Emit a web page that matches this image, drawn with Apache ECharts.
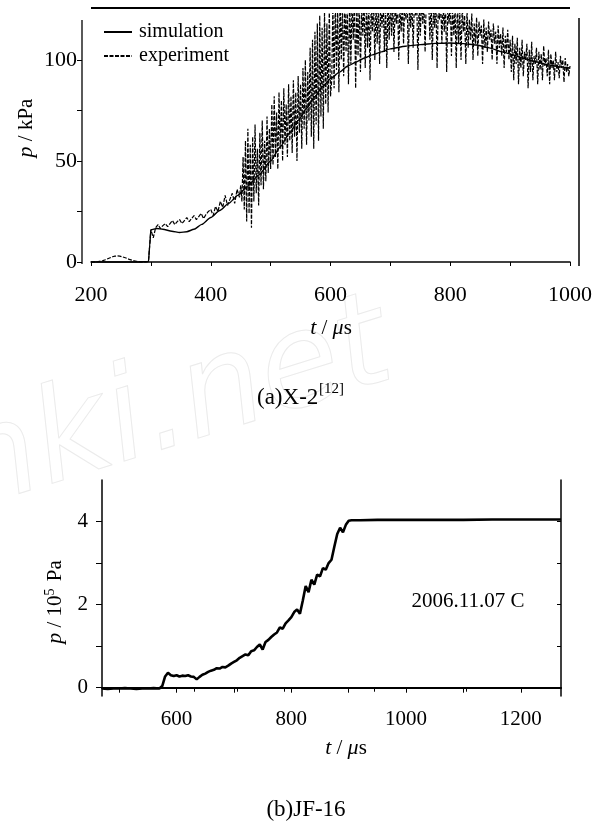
<!DOCTYPE html>
<html>
<head>
<meta charset="utf-8">
<title>p-t curves</title>
<script src="https://cdn.jsdelivr.net/npm/echarts@6/dist/echarts.min.js"></script>
<style>
  html, body { margin: 0; padding: 0; background: #fff; }
  #chart { width: 595px; height: 823px; }
</style>
</head>
<body>
<div id="chart"></div>
<script>
// (a) X-2 : simulated pressure (kPa) against time (µs)
const simTime = [200, 240, 280, 296, 298, 300, 310, 320, 335, 348, 360, 372, 385, 400, 415, 430, 445, 460, 480, 500,
  516, 532, 546, 560, 574, 587, 601, 615, 629, 643, 657, 670, 685, 700, 725, 750, 775, 800, 822, 843,
  865, 887, 905, 920, 942, 965, 983, 1000]
const simP = [0, 0, 0, 0.2, 8, 16, 16.6, 16.2, 15.2, 14.6, 15, 16.2, 18.6, 22, 25.5, 29, 33, 37, 43, 50,
  57, 64, 70, 76, 82, 87, 91, 94, 97, 99, 101, 102.5, 104, 105.5, 106.8, 107.6, 108.2, 108.4, 108.1, 107.4,
  106, 104, 102.5, 101, 99.2, 97.5, 96.6, 96]

// (a) X-2 : measured trace. Before 450 µs one reading every 4 µs ...
const expEarlyStart = 200
const expEarlyStep = 4
const expEarly = [
  // 200 - 296
  0, 0, 0.1, 0.2, 0.4, 0.7, 1.1, 1.6, 2.1, 2.6, 2.9, 3.0, 2.9, 2.6, 2.2, 1.8, 1.3, 0.9, 0.6, 0.3, 0.2, 0.1, 0, 0, 0.3,
  // 300 - 396
  16, 12, 17, 18.5, 16.5, 18, 19, 17.5, 19, 20.5, 18.5, 20, 21, 19, 20.5, 22, 20, 21.5, 23, 21, 22.5, 24, 21.5, 23.5, 25,
  // 400 - 448
  26, 23, 27.5, 25, 30, 27, 33, 28, 31, 34, 29, 36, 32
]
// ... and from 450 µs, where it oscillates hard, one every 2 µs
const expLateStart = 450
const expLateStep = 2
const expLate = [
  // 450 - 500
  38, 30, 52, 26, 60, 20, 66, 24, 58, 17, 62, 30, 68, 34, 56, 28, 64, 38, 70, 36, 60, 40, 72, 44, 66, 46,
  // 502 - 600
  78, 48, 82, 52, 74, 46, 84, 56, 80, 50, 86, 58, 78, 52, 88, 60, 82, 54, 90, 62,
  84, 50, 92, 64, 88, 56, 96, 66, 100, 58, 94, 70, 106, 62, 110, 56, 114, 68, 118, 60,
  122, 72, 116, 66, 124, 78, 118, 74, 126, 82,
  // 602 - 700
  90, 128, 86, 130, 95, 126, 84, 131, 100, 128, 92, 130, 104, 127, 88, 132, 98, 129, 110, 131,
  86, 128, 102, 130, 94, 126, 112, 131, 96, 129, 106, 132, 90, 128, 114, 130, 100, 127, 108, 131,
  98, 129, 116, 130, 104, 128, 96, 131, 110, 129,
  // 702 - 800
  112, 130, 104, 128, 118, 131, 100, 127, 114, 130, 108, 129, 120, 131, 98, 128, 116, 130, 106, 127,
  122, 131, 95, 129, 112, 130, 118, 128, 104, 131, 124, 129, 110, 130, 100, 127, 116, 131, 96, 128,
  120, 130, 108, 129, 114, 131, 94, 128, 118, 130,
  // 802 - 900
  102, 128, 112, 126, 96, 130, 108, 124, 100, 127, 114, 122, 98, 125, 106, 120, 110, 123, 100, 118,
  108, 121, 102, 119, 112, 117, 98, 120, 106, 116, 104, 119, 110, 115, 100, 118, 108, 114, 98, 117,
  106, 113, 102, 116, 96, 112, 104, 115, 100, 110,
  // 902 - 1000
  94, 112, 90, 108, 98, 111, 88, 106, 96, 110, 92, 104, 100, 108, 86, 105, 94, 109, 90, 102,
  98, 106, 88, 104, 95, 103, 90, 107, 97, 101, 92, 105, 88, 103, 96, 100, 90, 104, 94, 99,
  91, 102, 96, 100, 89, 101, 94, 98, 92, 97
]

// (b) JF-16 : pressure (10^5 Pa) against time (µs)
const jfTime = [470, 480, 490, 500, 510, 520, 530, 540, 550, 560, 570,
  575, 580, 585, 590, 595, 600, 605, 610, 615, 620, 625, 630, 635, 640, 645, 650, 655, 660, 665, 670,
  675, 680, 685, 690, 695, 700, 705, 710, 715, 720, 725, 730, 735, 740, 745, 750, 755, 760, 765, 770,
  775, 780, 785, 790, 795, 800, 805, 810, 815, 820, 825, 830, 835, 840, 845, 850, 855, 860, 865, 870,
  875, 880, 885, 890, 895, 900, 905,
  920, 950, 1000, 1050, 1100, 1150, 1200, 1250, 1270]
const jfP = [-0.02, -0.03, -0.02, -0.02, -0.01, -0.02, -0.03, -0.02, -0.02, -0.01, -0.02,
  0.04, 0.27, 0.36, 0.3, 0.28, 0.3, 0.27, 0.29, 0.28, 0.3, 0.27, 0.26, 0.2, 0.26, 0.31, 0.34, 0.38, 0.41, 0.43, 0.47,
  0.46, 0.5, 0.49, 0.53, 0.58, 0.62, 0.66, 0.72, 0.76, 0.8, 0.78, 0.88, 0.9, 0.98, 1.04, 0.92, 1.1, 1.15, 1.22, 1.28,
  1.33, 1.45, 1.42, 1.55, 1.62, 1.7, 1.82, 1.88, 1.78, 2.1, 2.45, 2.3, 2.6, 2.48, 2.72, 2.68, 2.88, 2.84, 3.0, 3.08,
  3.4, 3.7, 3.85, 3.74, 3.92, 4.02, 4.03,
  4.03, 4.04, 4.04, 4.04, 4.04, 4.05, 4.05, 4.05, 4.05]

// axis ticks and labels
const aTicksY = [0, 25, 50, 75, 100]
const aLabelsY = [0, 50, 100]
const bTicksX = [500, 600, 700, 800, 900, 1000, 1100, 1200]
const bLabelsX = [600, 800, 1000, 1200]
const bTopTicks = [630, 705, 787, 944, 1104]
const bTicksY = [0, 1, 2, 3, 4]
const bLabelsY = [0, 2, 4]
const bRightTicks = [1, 2, 3, 4]

const serif = '"Liberation Serif", "DejaVu Serif", serif'
const black = '#000'

const chart = echarts.init(document.getElementById('chart'), null, { renderer: 'canvas' })

const pair = (xs, ys) => xs.map((x, i) => [x, ys[i]])
const expData = expEarly.map((v, i) => [expEarlyStart + i * expEarlyStep, v])
  .concat(expLate.map((v, i) => [expLateStart + i * expLateStep, v]))

const labelStyle = { color: black, fontFamily: serif, fontSize: 22 }
const textStyle = (extra) => Object.assign({ fill: black, fontFamily: serif, fontSize: 21, align: 'center', verticalAlign: 'middle' }, extra)
const edge = (x1, y1, x2, y2, w) => ({ type: 'line', shape: { x1, y1, x2, y2 }, style: { stroke: black, lineWidth: w }, silent: true })

chart.setOption({
  animation: false,
  backgroundColor: '#fff',
  grid: [
    { left: 91, width: 480, top: 13.5, height: 258.6 },
    { left: 102, width: 459, top: 480, height: 216 }
  ],
  legend: {
    data: ['simulation', 'experiment'],
    orient: 'vertical',
    left: 98,
    top: 17,
    itemWidth: 28,
    itemHeight: 12,
    itemGap: 4,
    itemStyle: { opacity: 0 },
    textStyle: { color: black, fontFamily: serif, fontSize: 20, padding: [0, 0, 0, 2] }
  },
  xAxis: [
    {
      gridIndex: 0, type: 'value', min: 200, max: 1000, interval: 100,
      axisLine: { lineStyle: { color: black, width: 1.5 } },
      axisTick: { length: 4, lineStyle: { color: black } },
      axisLabel: Object.assign({ margin: 12, formatter: v => (v % 200 === 0 ? String(v) : '') }, labelStyle),
      splitLine: { show: false }
    },
    {
      gridIndex: 1, type: 'value', min: 470, max: 1270,
      axisLine: { lineStyle: { color: black, width: 1.5 } },
      axisTick: { length: 5, customValues: bTicksX, lineStyle: { color: black } },
      axisLabel: Object.assign({ margin: 13, customValues: bLabelsX, formatter: v => String(v) }, labelStyle, { fontSize: 21 }),
      splitLine: { show: false }
    },
    {
      gridIndex: 1, type: 'value', min: 470, max: 1270, position: 'top',
      axisLine: { lineStyle: { color: black, width: 2 } },
      axisTick: { inside: true, length: 4, customValues: bTopTicks, lineStyle: { color: black } },
      axisLabel: { show: false },
      splitLine: { show: false }
    }
  ],
  yAxis: [
    {
      gridIndex: 0, type: 'value', min: -5, max: 123, offset: 9,
      axisLine: { show: false },
      axisTick: { show: true, length: 5, customValues: aTicksY, lineStyle: { color: black } },
      axisLabel: Object.assign({ margin: 5, customValues: aLabelsY }, labelStyle),
      splitLine: { show: false }
    },
    {
      gridIndex: 1, type: 'value', min: -0.2, max: 5,
      axisLine: { show: true, lineStyle: { color: black, width: 1.5 } },
      axisTick: { show: true, length: 6, customValues: bTicksY, lineStyle: { color: black } },
      axisLabel: Object.assign({ margin: 14, customValues: bLabelsY }, labelStyle, { fontSize: 21 }),
      splitLine: { show: false }
    },
    {
      gridIndex: 1, type: 'value', min: -0.2, max: 5, position: 'right',
      axisLine: { show: true, lineStyle: { color: black, width: 1.5 } },
      axisTick: { show: true, inside: true, length: 4, customValues: bRightTicks, lineStyle: { color: black } },
      axisLabel: { show: false },
      splitLine: { show: false }
    }
  ],
  series: [
    {
      name: 'simulation', type: 'line', xAxisIndex: 0, yAxisIndex: 0,
      data: pair(simTime, simP), symbol: 'none', smooth: 0.2, smoothMonotone: 'x',
      lineStyle: { color: black, width: 1.4 }, itemStyle: { color: black }, z: 3
    },
    {
      name: 'experiment', type: 'line', xAxisIndex: 0, yAxisIndex: 0,
      data: expData, symbol: 'none', clip: true,
      lineStyle: { color: black, width: 1.2, type: [4, 1.5] }, itemStyle: { color: black }, z: 2
    },
    {
      name: 'JF-16', type: 'line', xAxisIndex: 1, yAxisIndex: 1,
      data: pair(jfTime, jfP), symbol: 'none',
      lineStyle: { color: black, width: 2.6 }, itemStyle: { color: black }
    }
  ],
  graphic: [
    // cnki watermark
    {
      type: 'text', x: -90, y: 560, rotation: 0.3, z: -10, silent: true,
      style: { text: 'cnki.net', fontFamily: '"DejaVu Sans", sans-serif', fontStyle: 'italic', fontWeight: 200,
        fontSize: 130, fill: 'none', stroke: '#ebebeb', lineWidth: 1, align: 'left', verticalAlign: 'bottom' }
    },
    // open frame of panel (a)
    edge(91, 8, 570, 8, 2),
    edge(82, 20, 82, 264, 1.3),
    edge(579, 18, 579, 266, 1.5),
    // panel (a) texts
    { type: 'text', x: 26, y: 128, rotation: Math.PI / 2, silent: true,
      style: textStyle({ text: '{i|p} / kPa', fontSize: 21, rich: { i: { fontStyle: 'italic', fontFamily: serif, fontSize: 22 } } }) },
    { type: 'text', x: 331, y: 328, silent: true,
      style: textStyle({ text: '{i|t} / {i|μ}s', fontSize: 21, rich: { i: { fontStyle: 'italic', fontFamily: serif, fontSize: 22 } } }) },
    { type: 'text', x: 257, y: 398, silent: true, style: textStyle({ text: '(a)X-2', fontSize: 23, align: 'left' }) },
    { type: 'text', x: 319, y: 389, silent: true, style: textStyle({ text: '[12]', fontSize: 15, align: 'left' }) },
    // panel (b) texts
    { type: 'text', x: 55, y: 602, rotation: Math.PI / 2, silent: true,
      style: textStyle({ text: '{i|p} / 10{s|5} Pa', fontSize: 21,
        rich: { i: { fontStyle: 'italic', fontFamily: serif, fontSize: 22 }, s: { fontFamily: serif, fontSize: 14, verticalAlign: 'top', padding: [0, 2, 10, 0] } } }) },
    { type: 'text', x: 346, y: 748, silent: true,
      style: textStyle({ text: '{i|t} / {i|μ}s', fontSize: 21, rich: { i: { fontStyle: 'italic', fontFamily: serif, fontSize: 22 } } }) },
    { type: 'text', x: 468, y: 601, silent: true, style: textStyle({ text: '2006.11.07 C', fontSize: 21 }) },
    { type: 'text', x: 306, y: 810, silent: true, style: textStyle({ text: '(b)JF-16', fontSize: 23 }) }
  ]
})
</script>
</body>
</html>
